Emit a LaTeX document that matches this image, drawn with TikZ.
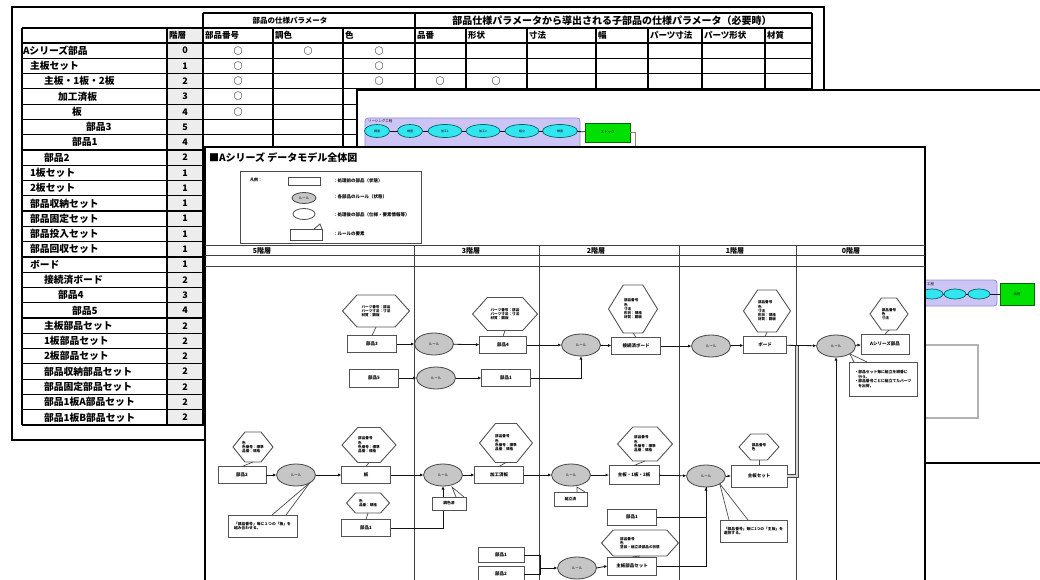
\documentclass[tikz,border=0pt]{standalone}
\usepackage{fontspec}
\setmainfont{Noto Sans CJK JP}
\usetikzlibrary{shapes.geometric,arrows.meta,calc}
\definecolor{lav}{RGB}{204,196,244}
\definecolor{lavline}{RGB}{150,140,205}
\definecolor{cyanfill}{RGB}{50,230,240}
\definecolor{greenbox}{RGB}{0,224,0}
\definecolor{brownline}{RGB}{170,120,120}
\newcommand\hexn[6]{%
  \pgfmathsetmacro\hexc{min(0.45*#5,0.3*#4)}%
  \path[hexline] ({#2-#4/2},#3) -- ({#2-#4/2+\hexc},{#3-#5/2}) -- ({#2+#4/2-\hexc},{#3-#5/2}) -- ({#2+#4/2},#3) -- ({#2+#4/2-\hexc},{#3+#5/2}) -- ({#2-#4/2+\hexc},{#3+#5/2}) -- cycle;%
  \node[hexlbl,minimum width=#4pt,minimum height=#5pt] (#1) at (#2,#3) {#6};}
\begin{document}
\begin{tikzpicture}[x=1pt,y=-1pt,
  every node/.style={inner sep=0pt,outer sep=0pt},
  grid/.style={line width=1.2pt,draw=black},
  namecell/.style={anchor=west,font=\fontsize{9.8}{10}\selectfont\bfseries},
  headcell/.style={anchor=west,font=\fontsize{8.5}{9}\selectfont\bfseries},
  lvlcell/.style={font=\fontsize{9}{10}\selectfont\bfseries},
  markcell/.style={font=\fontsize{9}{9}\selectfont\bfseries},
  pbox/.style={rectangle,draw=gray!65!black,line width=1pt,fill=white,minimum width=48pt,minimum height=17pt,font=\fontsize{4.5}{5}\selectfont\bfseries},
  rulenode/.style={ellipse,draw=gray!55!black,line width=0.8pt,fill=gray!45,minimum width=39pt,minimum height=22pt,font=\fontsize{3.5}{4}\selectfont},
  hexlbl/.style={font=\fontsize{3.6}{4.3}\selectfont\bfseries,align=left},
  hexline/.style={draw=gray!65!black,line width=0.9pt,fill=white},
  notebox/.style={rectangle,draw=gray!65!black,line width=0.9pt,fill=white,align=left,font=\fontsize{3.8}{4.8}\selectfont\bfseries},
  arr/.style={draw=gray!15!black,line width=0.8pt,-{Latex[length=3.5pt,width=3pt]}},
  ln/.style={draw=gray!15!black,line width=0.8pt},
  callout/.style={draw=gray!60!black,line width=0.7pt},
  lane/.style={draw=gray!50!black,line width=1pt},
  lanelbl/.style={font=\fontsize{7}{7}\selectfont\bfseries},
  legtxt/.style={anchor=west,font=\fontsize{4.5}{5}\selectfont\bfseries},
  cyanell/.style={ellipse,draw=teal!80!black,line width=0.7pt,fill=cyanfill,minimum height=13pt,font=\fontsize{3}{3}\selectfont},
]
\useasboundingbox (0,0) rectangle (1040,580);
\clip (0,0) rectangle (1040,580);

% ---------------- back sheet: table ----------------
\draw[line width=1.3pt,fill=white] (12,7) rectangle (824,440);
\fill[gray!14] (167,28) rectangle (203,425);
\draw[grid] (203,13) -- (812,13);
\draw[grid] (22,28) -- (812,28);
\foreach \k in {0,...,25} \draw[grid] (22,{43+15.28*\k}) -- (812,{43+15.28*\k});
\foreach \c in {22,167,273,343,466,527,596,648,702,765} \draw[grid] (\c,28) -- (\c,425);
\foreach \c in {203,415,812} \draw[grid] (\c,13) -- (\c,425);

\node[font=\fontsize{7.5}{8}\selectfont\bfseries] (hg1) at (290,20.5) {部品の仕様パラメータ};
\node[font=\fontsize{10}{10}\selectfont\bfseries] (hg2) at (612,20.5) {部品仕様パラメータから導出される子部品の仕様パラメータ（必要時）};
\foreach \hx/\htxt [count=\j] in {169/階層,205/部品番号,275/調色,345/色,417/品番,468/形状,529/寸法,598/幅,650/パーツ寸法,704/パーツ形状,767/材質}
  \node[headcell] (hc\j) at (\hx,35.5) {\htxt};

\foreach \lv/\nm [count=\i from 0] in {0/Aシリーズ部品,1/主板セット,2/主板・1板・2板,3/加工済板,4/板,5/部品3,4/部品1,2/部品2,1/1板セット,1/2板セット,1/部品収納セット,1/部品固定セット,1/部品投入セット,1/部品回収セット,1/ボード,2/接続済ボード,3/部品4,4/部品5,2/主板部品セット,2/1板部品セット,2/2板部品セット,2/部品収納部品セット,2/部品固定部品セット,2/部品1板A部品セット,2/部品1板B部品セット}{
  \pgfmathsetmacro\ix{\lv==0 ? 23 : 30+14*(\lv-1)}
  \pgfmathsetmacro\iy{43+15.28*(\i+0.5)}
  \node[namecell] (rn\i) at (\ix,\iy) {\nm};
  \node[lvlcell] (rl\i) at (185,\iy) {\lv};
}
\foreach \mx/\my [count=\m] in {238/0,308/0,379/0,238/1,379/1,238/2,379/2,440/2,496/2,238/3,238/4}
  \node[markcell] (mk\m) at (\mx,{43+15.28*(\my+0.5)}) {○};

% ---------------- middle slide ----------------
\draw[line width=1.2pt,fill=white] (357,90) rectangle (1050,463);
\draw[rounded corners=3pt,fill=lav,draw=lavline,line width=0.8pt] (365,118) rectangle (580,165);
\node[anchor=west,font=\fontsize{3.5}{4}\selectfont] (plbl) at (368,121) {ソーシング工程};
\node[cyanell,minimum width=25pt] (c1) at (377,131) {調達};
\node[cyanell,minimum width=25pt] (c2) at (410,131) {検査};
\node[cyanell,minimum width=34pt] (c3) at (445,131) {加工1};
\node[cyanell,minimum width=34pt] (c4) at (483,131) {加工2};
\node[cyanell,minimum width=34pt] (c5) at (522,131) {組立};
\node[cyanell,minimum width=35pt] (c6) at (560,131) {検査};
\node[draw=green!40!black,line width=0.8pt,fill=greenbox,minimum width=45pt,minimum height=19pt,font=\fontsize{3.5}{4}\selectfont] (g1) at (607.5,132.5) {ストック};
\foreach \a/\b in {c1/c2,c2/c3,c3/c4,c4/c5,c5/c6,c6/g1} \draw[ln] (\a) -- (\b);
\coordinate (g1d) at (635,170);
\draw[draw=brownline,line width=0.8pt] (g1.east) -| (g1d);

\draw[rounded corners=3pt,fill=lav,draw=lavline,line width=0.8pt] (880,280) rectangle (997,306);
\node[anchor=west,font=\fontsize{3.5}{4}\selectfont] (plbl2) at (927,284) {工程};
\node[cyanell,minimum width=22pt,minimum height=10pt] (d1) at (932,294) {};
\node[cyanell,minimum width=22pt,minimum height=10pt] (d2) at (955,294) {};
\node[cyanell,minimum width=22pt,minimum height=10pt] (d3) at (979,294) {};
\node[draw=green!40!black,line width=0.8pt,fill=greenbox,minimum width=34pt,minimum height=22pt,font=\fontsize{3.5}{4}\selectfont] (g2) at (1017,294) {出荷};
\foreach \a/\b in {d1/d2,d2/d3,d3/g2} \draw[ln] (\a) -- (\b);
\draw[gray!60,line width=1.2pt] (900,345) -- (978,345) -- (978,418) -- (900,418);

% ---------------- front slide ----------------
\draw[line width=1.5pt,fill=white] (205,147) rectangle (925,600);
\node[anchor=west,font=\fontsize{10}{10}\selectfont\bfseries] (title) at (209,158) {■Aシリーズ データモデル全体図};

% legend
\draw[gray!60!black,line width=1pt,fill=white] (240,172) rectangle (421,243);
\node[anchor=west,font=\fontsize{4}{4}\selectfont\bfseries] (lg0) at (250,180) {凡例：};
\node[draw=gray!60!black,line width=0.8pt,minimum width=32pt,minimum height=8pt] (lg1) at (304,181) {};
\node[rulenode,minimum width=24pt,minimum height=11pt] (lg2) at (304,198) {ルール};
\node[ellipse,draw=gray!60!black,line width=0.8pt,fill=white,minimum width=22pt,minimum height=11pt] (lg3) at (304,214) {};
\node[draw=gray!60!black,line width=0.8pt,minimum width=32pt,minimum height=11pt] (lg4) at (306,234.5) {};
\draw[gray!60!black,line width=0.8pt] ($(lg4.north east)+(-8,0)$) -- ($(lg4.north east)+(-2,-5)$) -- (lg4.north east);
\node[legtxt] (lt1) at (333,181) {：処理前の部品（状態）};
\node[legtxt] (lt2) at (333,197) {：各部品のルール（状態）};
\node[legtxt] (lt3) at (333,215) {：処理後の部品（仕様・要素情報等）};
\node[legtxt] (lt4) at (333,234) {：ルールの要素};

% lanes
\draw[lane] (205,245) -- (925,245);
\draw[lane] (205,255.5) -- (925,255.5);
\draw[lane] (205,266) -- (925,266);
\foreach \lx in {414,539,679,796} \draw[lane] (\lx,245) -- (\lx,600);
\node[lanelbl] (ll1) at (262,250.5) {5階層};
\node[lanelbl] (ll2) at (471,250.5) {3階層};
\node[lanelbl] (ll3) at (596,250.5) {2階層};
\node[lanelbl] (ll4) at (735,250.5) {1階層};
\node[lanelbl] (ll5) at (851,250.5) {0階層};

% hexagons
\hexn{H1}{376}{311}{67}{32}{パーツ番号：部品\\パーツ寸法：寸法\\材質：鋼板}
\hexn{H2}{505}{314}{65}{33}{パーツ番号：部品\\パーツ寸法：寸法\\材質：鋼板}
\hexn{H3}{633}{309}{49}{48}{部品番号\\色\\寸法\\形状：規格\\材質：鋼板}
\hexn{H4}{767}{311}{47}{42}{部品番号\\色\\寸法\\形状：規格\\材質：鋼板}
\hexn{H5}{889}{314}{38}{32}{部品番号\\色\\寸法}
\hexn{H6}{253}{447}{40}{30}{色\\色番号：標準\\品番：規格}
\hexn{H7}{369}{445}{54}{35}{部品番号\\色\\色番号：標準\\品番：規格}
\hexn{H8}{368}{503}{43}{20}{色\\品番：規格}
\hexn{H9}{506}{443}{53}{39}{部品番号\\色\\色番号：標準\\品番：規格}
\hexn{H10}{645}{444}{55}{34}{部品番号\\色\\色番号：標準\\品番：規格}
\hexn{H11}{759}{447}{40}{26}{部品番号\\色}
\hexn{H12}{640}{543}{77}{26}{部品番号\\色\\塗装・組立済部品の状態}

% boxes
\node[pbox,minimum width=49pt] (B1) at (372,344) {部品3};
\node[pbox,minimum width=47pt] (B2) at (503,345) {部品4};
\node[pbox,minimum width=49pt] (B3) at (636,346) {接続済ボード};
\node[pbox,minimum width=43pt] (B4) at (765,345) {ボード};
\node[pbox,minimum width=48pt,minimum height=20pt] (B5) at (885,344) {Aシリーズ部品};
\node[pbox,minimum width=49pt,minimum height=18pt] (B6) at (374,378) {部品5};
\node[pbox,minimum width=49pt] (B2b) at (506,378) {部品1};
\node[pbox] (B7) at (242,475) {部品2};
\node[pbox,minimum width=49pt] (B8) at (366,475) {板};
\node[pbox,minimum width=49pt] (B9) at (366,528) {部品1};
\node[pbox,minimum width=49pt] (B10) at (499,475) {加工済板};
\node[pbox,minimum width=50pt,minimum height=19pt] (B11) at (634,475) {主板・1板・2板};
\node[pbox,minimum width=56pt,minimum height=22pt] (B12) at (759,476) {主板セット};
\node[pbox,minimum width=49pt,minimum height=16pt] (B13) at (632,517) {部品1};
\node[pbox,minimum width=49pt,minimum height=18pt] (B14) at (632,566) {主板部品セット};
\node[pbox,minimum width=46pt,minimum height=15pt] (B15) at (501,555) {部品1};
\node[pbox,minimum width=46pt,minimum height=15pt] (B16) at (501,574) {部品2};

% rules (ellipses)
\node[rulenode] (E1) at (434,344) {ルール};
\node[rulenode] (E2) at (436,378) {ルール};
\node[rulenode] (E3) at (581,345) {ルール};
\node[rulenode] (E4) at (711,346) {ルール};
\node[rulenode] (E5) at (836,346) {ルール};
\node[rulenode] (E6) at (296,475) {ルール};
\node[rulenode] (E7) at (443,475) {ルール};
\node[rulenode] (E8) at (571,475) {ルール};
\node[rulenode] (E9) at (706,476) {ルール};
\node[rulenode] (E10) at (577,568) {ルール};

% hex to box links
\foreach \h/\b in {H1/B1,H2/B2,H3/B3,H4/B4,H5/B5,H6/B7,H7/B8,H8/B9,H9/B10,H10/B11,H11/B12,H12/B14}
  \draw[callout] (\h.south) -- (\b.north);

% thick bar from 主板セット to row 1
\coordinate (J2) at (797,346);
\draw[draw=gray!55!black,double=gray!35,double distance=2.5pt,line width=0.6pt] (B12.east) -| (J2);

% connectors row 1/2
\foreach \a/\b in {B1/E1,E1/B2,B2/E3,E3/B3,B3/E4,E4/B4,B4/E5,E5/B5,B6/E2,E2/B2b}
  \draw[arr] (\a) -- (\b);
\draw[arr] (B2b.east) -| (E3.south);
\coordinate (J3) at (836,590);
\draw[arr] (J3) -- (E5.south);

% connectors row 3
\foreach \a/\b in {B7/E6,E6/B8,B8/E7,E7/B10,B10/E8,E8/B11,B11/E9,E9/B12}
  \draw[arr] (\a) -- (\b);
\draw[arr] (B9.east) -| (E7.south);
\draw[arr] (B13.east) -| (E9.south);
\draw[ln] (B14.east) -| (E9.south);
\coordinate (J1) at (540,568);
\draw[ln] (B15.east) -| (J1);
\draw[ln] (B16.east) -| (J1);
\draw[arr] (J1) -- (E10.west);
\draw[arr] (E10.east) -- (B14.west);

% notes and callouts
\node[notebox,minimum width=69pt,minimum height=22pt] (N1) at (262.5,526) {「部品番号」毎に１つの「板」を\\組み合わせる。};
\draw[callout] (E6.south east) -- ($(N1.north west)+(44,0)$);
\draw[callout] (E6.south east) -- ($(N1.north west)+(58,0)$);
\node[notebox,minimum width=67pt,minimum height=22pt] (N2) at (753.5,531) {「部品番号」毎に1つの「主板」を\\選択する。};
\draw[callout] (E9.south east) -- ($(N2.north west)+(9,0)$);
\draw[callout] (E9.south east) -- ($(N2.north west)+(28,0)$);
\node[notebox,minimum width=68pt,minimum height=34pt] (N3) at (883,379) {・部品セット毎に組立を順番に\\　行う。\\・部品番号ごとに組立てたパーツ\\　を出荷。};
\draw[callout] (E5.south east) -- ($(N3.north west)+(5,0)$);
\draw[callout] (E5.south east) -- ($(N3.north west)+(18,0)$);
\node[notebox,minimum width=34pt,minimum height=13pt,align=center] (T1) at (449,503.5) {調色済};
\draw[callout] ($(T1.north east)+(-10,0)$) -- ($(E7.south)+(9,1)$) -- ($(T1.north east)+(-2,0)$);
\node[notebox,minimum width=33pt,minimum height=14pt,align=center] (T2) at (570.5,499) {組立済};
\draw[callout] ($(T2.north east)+(-10,0)$) -- ($(E8.south)+(6,1)$) -- ($(T2.north east)+(-2,0)$);
\end{tikzpicture}
\end{document}
